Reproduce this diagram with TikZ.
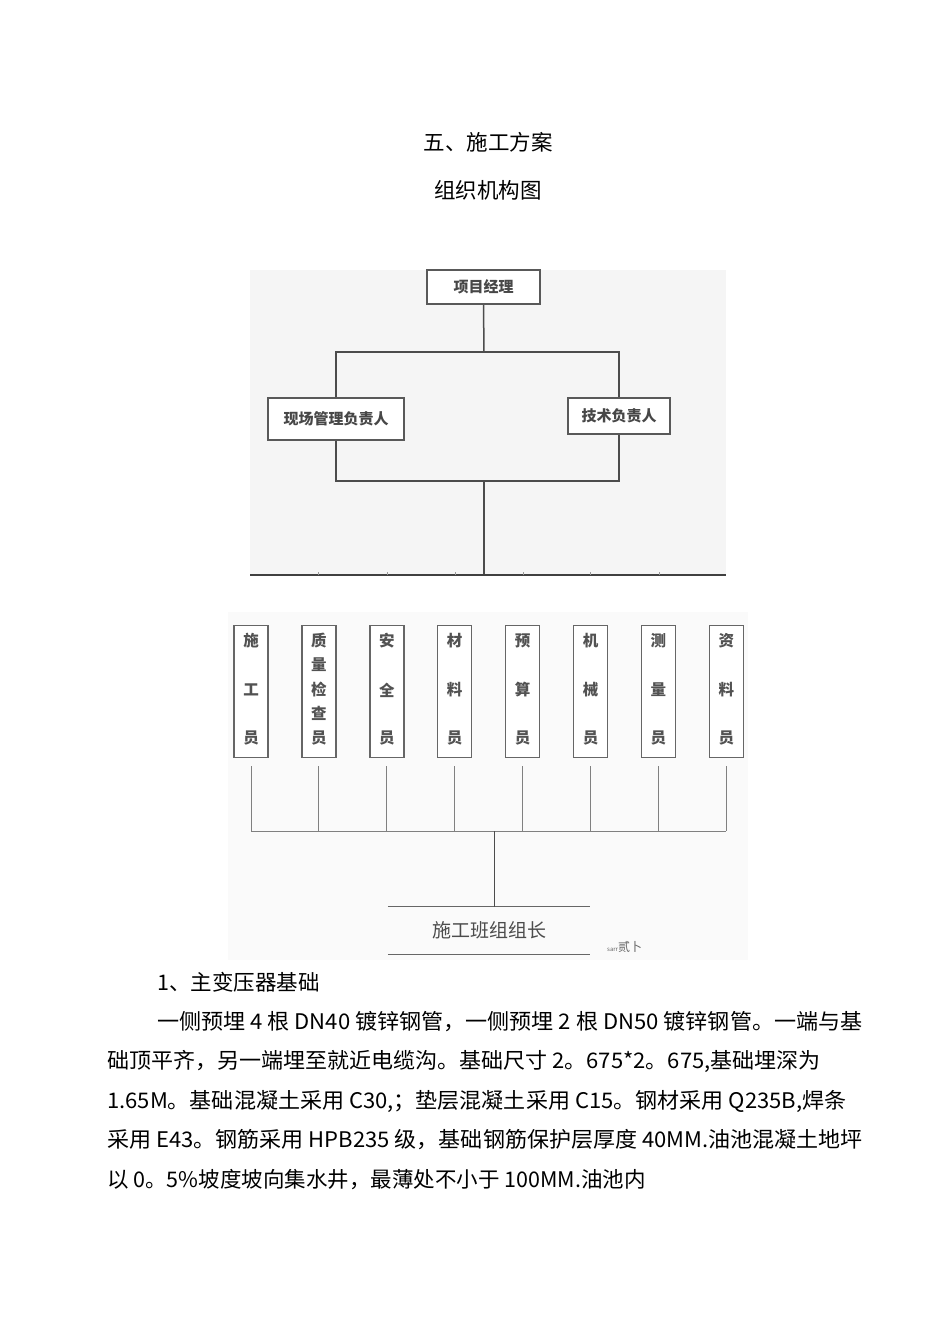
\documentclass[tikz,border=0pt]{standalone}
\usepackage{fontspec}
\setmainfont{Noto Sans CJK SC}
\newcommand\myfs[1]{\fontsize{#1}{#1}\selectfont}
\begin{document}
\begin{tikzpicture}[x=1pt,y=-1pt,
  box/.style={draw=black!65, line width=1.6pt, fill=white, inner sep=0pt, font=\myfs{15}\bfseries, text=black!72},
  vbox/.style={draw=black!60, line width=1.4pt, fill=white, minimum width=34pt, minimum height=132pt, inner sep=0pt},
  vch/.style={inner sep=0pt, font=\myfs{15.5}\bfseries, text=black!68},
  tline/.style={draw=black!70, line width=1.5pt},
  bline/.style={draw=black!50, line width=0.9pt},
  lline/.style={draw=black!60, line width=1pt},
  ttl/.style={inner sep=0pt, font=\myfs{21.5}, text=black},
  body/.style={anchor=west, inner sep=0pt, font=\myfs{21.5}, text=black}]
\fill[white] (0,0) rectangle (950,1344);
\useasboundingbox (0,0) rectangle (950,1344);
% titles
\node[ttl] (t1) at (488,142) {五、施工方案};
\node[ttl] (t2) at (488,190) {组织机构图};
% backgrounds
\fill[black!4] (250,270) rectangle (726,576);
\fill[black!2] (228,612) rectangle (748,960);
% top chart
\node[box, minimum width=113pt, minimum height=34pt] (pm) at (483.5,287) {项目经理};
\node[box, minimum width=136pt, minimum height=42pt] (site) at (336,419) {现场管理负责人};
\node[box, minimum width=102pt, minimum height=36pt] (tech) at (619,416) {技术负责人};
\coordinate (j1) at (484,352);
\coordinate (j2) at (484,481);
\coordinate (j3) at (484,575);
\coordinate (bl) at (250,575);
\coordinate (br) at (726,575);
\draw[tline] (pm.south) -- (j1);
\draw[tline] (site.north) -- (site.north |- j1) -- (tech.north |- j1) -- (tech.north);
\draw[tline] (site.south) -- (site.south |- j2) -- (tech.south |- j2) -- (tech.south);
\draw[tline] (j2) -- (j3);
\draw[draw=black!75, line width=1.5pt] (bl) -- (br);
\foreach \x [count=\k] in {318,387,455,523,590,659}
  {\coordinate (tk\k) at (\x,575); \draw[black!40, line width=0.8pt] (tk\k) -- ++(0,-3);}
% lower boxes
\foreach \i in {0,...,7}{
  \node[vbox] (v\i) at (251+67.9*\i,691.5) {};
  \coordinate (h\i) at (251+67.9*\i,831);
  \draw[bline] ([yshift=-8pt]v\i.south) -- (h\i);
}
\foreach \i/\a/\b/\c in {0/施/工/员,2/安/全/员,3/材/料/员,4/预/算/员,5/机/械/员,6/测/量/员,7/资/料/员}{
  \node[vch] (c\i a) at (251+67.9*\i,641) {\a};
  \node[vch] (c\i b) at (251+67.9*\i,690) {\b};
  \node[vch] (c\i c) at (251+67.9*\i,738) {\c};
}
\foreach \ch/\yy [count=\k] in {质/641,量/665,检/689,查/713,员/738}
  {\node[vch] (c1\k) at (318.9,\yy) {\ch};}
\draw[bline] (h0) -- (h7);
\coordinate (hc) at (494,831);
\node[inner sep=0pt, minimum width=202pt, minimum height=47pt, font=\myfs{19}, text=black!70] (lead) at (489,930.5) {施工班组组长};
\draw[lline] (lead.north west) -- (lead.north east);
\draw[lline] (lead.south west) -- (lead.south east);
\draw[bline, draw=black!70] (hc) -- (hc |- lead.north);
\node[inner sep=0pt, text=black!60, anchor=west] (note) at (607,947) {\myfs{6}sarr\myfs{12}贰卜};
% body text
\node[body] (p0) at (157,982) {1、主变压器基础};
\node[body] (p1) at (157,1022) {\scalebox{1.027}[1]{一侧预埋 4 根 DN40 镀锌钢管，一侧预埋 2 根 DN50 镀锌钢管。一端与基}};
\node[body] (p2) at (107,1061) {\scalebox{1.024}[1]{础顶平齐，另一端埋至就近电缆沟。基础尺寸 2。675*2。675,基础埋深为}};
\node[body] (p3) at (107,1101) {\scalebox{1.025}[1]{1.65M。基础混凝土采用 C30,；垫层混凝土采用 C15。钢材采用 Q235B,焊条}};
\node[body] (p4) at (107,1140) {\scalebox{1.025}[1]{采用 E43。钢筋采用 HPB235 级，基础钢筋保护层厚度 40MM.油池混凝土地坪}};
\node[body] (p5) at (107,1180) {以 0。5\%坡度坡向集水井，最薄处不小于 100MM.油池内};
\end{tikzpicture}
\end{document}
